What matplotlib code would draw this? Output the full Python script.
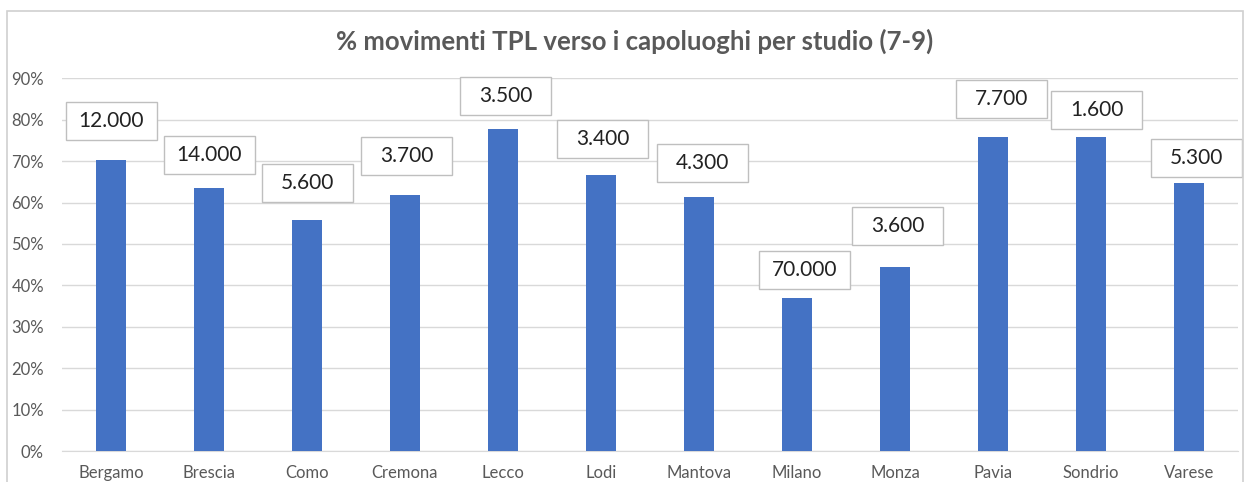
import matplotlib.pyplot as plt
import matplotlib.transforms as mtrans
from matplotlib.patches import Rectangle
from matplotlib.ticker import PercentFormatter

plt.rcParams['font.family'] = ['Lato', 'DejaVu Sans']

# dati
citta = ["Bergamo", "Brescia", "Como", "Cremona", "Lecco", "Lodi",
         "Mantova", "Milano", "Monza", "Pavia", "Sondrio", "Varese"]
perc_tpl = [70.3, 63.6, 55.8, 61.7, 77.7, 66.6, 61.4, 36.9, 44.5, 75.9, 75.9, 64.7]
etichette = ["12.000", "14.000", "5.600", "3.700", "3.500", "3.400",
             "4.300", "70.000", "3.600", "7.700", "1.600", "5.300"]

# posizione delle etichette (spostate a mano come in Excel)
etich_y = [79.7, 71.5, 64.7, 71.3, 85.7, 75.4, 69.6, 43.7, 54.3, 85.0, 82.4, 70.8]
etich_dx = [0, 0, 0, 0.02, 0.03, 0.02, 0.04, 0.08, 0.03, 0.09, 0.06, 0.08]

W, H = 1244, 482
fig = plt.figure(figsize=(W / 100, H / 100), dpi=100)
fig.patch.set_facecolor("white")

# cornice del grafico
fig.patches.append(Rectangle((7 / W, -0.1), (1236 / W), 1.1 - 11 / H,
                             transform=fig.transFigure, fill=False,
                             edgecolor="#d0d0d0", lw=1.2))

ax = fig.add_axes([62 / W, 31 / H, (1238 - 62) / W, (451 - 78.3) / H])
x = range(len(citta))
ax.bar(x, perc_tpl, width=0.31, color="#4472c4", zorder=3)

ax.set_ylim(0, 90)
ax.set_xlim(-0.5, len(citta) - 0.5)
ax.set_yticks(range(0, 91, 10))
ax.yaxis.set_major_formatter(PercentFormatter(decimals=0))
ax.grid(axis="y", color="#d9d9d9", lw=1, zorder=0)
for s in ["top", "right", "left"]:
    ax.spines[s].set_visible(False)
ax.spines["bottom"].set_color("#d9d9d9")
ax.tick_params(length=0, labelsize=12, labelcolor="#595959")
ax.tick_params(axis="x", pad=10)
ax.tick_params(axis="y", pad=13)
ax.set_xticks(list(x))
ax.set_xticklabels(citta)

# riquadri delle etichette, dimensione fissa in pollici
for i, t in enumerate(etichette):
    xi, yi = i + etich_dx[i], etich_y[i]
    tr = fig.dpi_scale_trans + mtrans.ScaledTranslation(xi, yi, ax.transData)
    ax.add_patch(Rectangle((-0.455, -0.19), 0.91, 0.38, transform=tr,
                           fc="white", ec="#bfbfbf", lw=1, zorder=4, clip_on=False))
    ax.text(xi, yi, t, ha="center", va="center", fontsize=15,
            color="#222222", zorder=5)

fig.text(635 / W, 1 - 41 / H, "% movimenti TPL verso i capoluoghi per studio (7-9)",
         ha="center", va="center", fontsize=18.5, fontweight="bold", color="#595959")

fig.savefig("out.png", dpi=100)
